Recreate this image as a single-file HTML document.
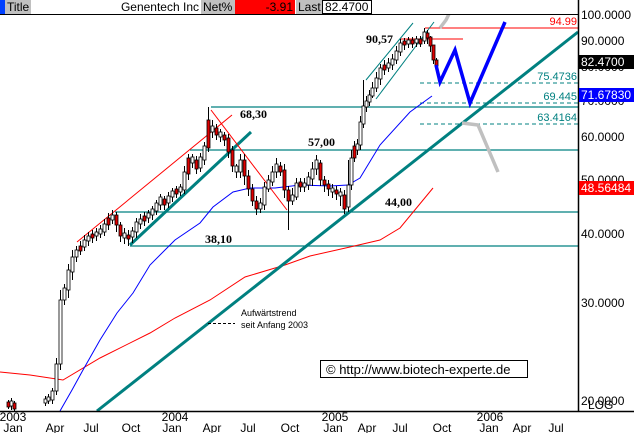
<!DOCTYPE html>
<html><head><meta charset="utf-8"><style>
body{margin:0;background:#fff;width:634px;height:433px;overflow:hidden}
svg{display:block;font-family:"Liberation Sans",sans-serif}
</style></head><body>
<svg width="634" height="433" xmlns="http://www.w3.org/2000/svg">
<rect width="634" height="433" fill="#fff"/>
<g stroke="#008080" stroke-width="1.3">
<line x1="211" y1="107" x2="578" y2="107"/>
<line x1="190" y1="150" x2="578" y2="150"/>
<line x1="115" y1="212" x2="578" y2="212"/>
<line x1="130" y1="246" x2="578" y2="246"/>
</g>
<g stroke="#008080" stroke-dasharray="4,3">
<line x1="420" y1="83" x2="578" y2="83"/>
<line x1="420" y1="103" x2="578" y2="103"/>
<line x1="420" y1="124" x2="578" y2="124"/>
</g>
<g font-size="11" fill="#008080" text-anchor="end">
<text x="577" y="80">75.4736</text><text x="577" y="100">69.445</text><text x="577" y="121">63.4164</text>
</g>
<line x1="425" y1="28" x2="578" y2="28" stroke="#ff0000"/>
<text x="577" y="25" font-size="11" fill="#ff0000" text-anchor="end">94.99</text>
<line x1="400" y1="39" x2="463" y2="39" stroke="#ff0000"/>
<polyline fill="none" stroke="#ff0000" points="0,372 30,375 63,380 100,358 150,333 175,318 210,300 245,277 285,265 310,256 350,247 380,240 400,228 433,188"/>
<polyline fill="none" stroke="#0000ff" points="60,411 72,390 83,370 100,340 117,313 133,293 150,265 175,240 200,223 213,207 233,192 250,188 275,188 300,185 330,186 348,185 360,178 380,145 410,112 432,96"/>
<line x1="97" y1="411" x2="578" y2="32" stroke="#008080" stroke-width="3"/>
<line x1="130" y1="245" x2="251" y2="132" stroke="#008080" stroke-width="3"/>
<line x1="77" y1="242" x2="232" y2="115" stroke="#ff0000"/>
<line x1="211" y1="110" x2="287" y2="210" stroke="#ff0000"/>
<line x1="366" y1="80" x2="413" y2="23" stroke="#008080"/>
<line x1="376" y1="99" x2="434" y2="22" stroke="#008080"/>
<!-- candles -->
<path fill="none" stroke="#000" d="M8.5 400V409M11.5 398V410M14.5 401V411M45.5 396V406M48.5 394V404M52.5 388V404M56.5 358V395M60.5 290V370M64.5 284V305M68.5 264V298M72.5 250V280M76.5 246V262M80.5 241V255M84.5 235V251M88.5 232V246M92.5 230V243M96.5 228V241M100.5 225V238M104.5 219V236M108.5 213V230M112.5 210V224M116.5 212V232M120.5 222V242M124.5 228V244M128.5 230V246M132.5 227V243M136.5 218V238M140.5 214V229M144.5 212V226M148.5 210V223M152.5 206V220M156.5 200V215M160.5 194V210M164.5 196V210M168.5 192V208M172.5 188V202M176.5 186V198M180.5 184V196M184.5 166V194M188.5 154V180M192.5 154V168M196.5 156V174M200.5 153V172M204.5 142V165M208.5 107V152M212.5 120V138M216.5 124V140M220.5 129V142M224.5 132V146M228.5 134V158M232.5 146V172M236.5 164V178M240.5 154V178M244.5 154V185M248.5 170V196M252.5 184V206M256.5 196V215M260.5 198V213M264.5 182V210M268.5 175V192M272.5 166V186M276.5 158V178M280.5 162V176M284.5 164V198M288.5 186V230M292.5 188V205M296.5 178V200M300.5 178V192M304.5 178V192M308.5 172V190M312.5 162V186M316.5 155V175M320.5 160V186M324.5 176V192M328.5 180V196M332.5 184V198M336.5 186V200M340.5 188V206M344.5 190V214M348.5 160V212M351.5 150V190M354.5 141V162M357.5 139V155M360.5 116V150M363.5 80V128M366.5 96V112M369.5 90V106M372.5 82V98M376.5 72V92M380.5 64V85M384.5 60V75M388.5 58V72M392.5 54V70M396.5 46V64M400.5 39V56M404.5 38V50M408.5 37V48M412.5 37V48M416.5 36V47M420.5 36V47M424.5 28V44M427.5 30V44M430.5 36V52M433.5 50V64M436.5 58V70"/>
<g stroke="#000" stroke-width="0.8" fill="#fff">
<rect x="7" y="402" width="3" height="5" fill="#e00000"/>
<rect x="10" y="401" width="3" height="5"/>
<rect x="13" y="403" width="3" height="6" fill="#e00000"/>
<rect x="44" y="399" width="3" height="4"/>
<rect x="47" y="397" width="3" height="4"/>
<rect x="51" y="391" width="3" height="9"/>
<rect x="55" y="364" width="3" height="27"/>
<rect x="59" y="300" width="3" height="64"/>
<rect x="63" y="288" width="3" height="12"/>
<rect x="67" y="270" width="3" height="20"/>
<rect x="71" y="257" width="3" height="15"/>
<rect x="75" y="250" width="3" height="7"/>
<rect x="79" y="246" width="3" height="5" fill="#e00000"/>
<rect x="83" y="240" width="3" height="7"/>
<rect x="87" y="236" width="3" height="5"/>
<rect x="91" y="234" width="3" height="4" fill="#e00000"/>
<rect x="95" y="232" width="3" height="4"/>
<rect x="99" y="229" width="3" height="5"/>
<rect x="103" y="224" width="3" height="8"/>
<rect x="107" y="218" width="3" height="7" fill="#e00000"/>
<rect x="111" y="215" width="3" height="5"/>
<rect x="115" y="215" width="3" height="10" fill="#e00000"/>
<rect x="119" y="225" width="3" height="11" fill="#e00000"/>
<rect x="123" y="233" width="3" height="5"/>
<rect x="127" y="235" width="3" height="4" fill="#e00000"/>
<rect x="131" y="231" width="3" height="6"/>
<rect x="135" y="222" width="3" height="10"/>
<rect x="139" y="219" width="3" height="5"/>
<rect x="143" y="216" width="3" height="5" fill="#e00000"/>
<rect x="147" y="213" width="3" height="5"/>
<rect x="151" y="209" width="3" height="6"/>
<rect x="155" y="203" width="3" height="8"/>
<rect x="159" y="197" width="3" height="8"/>
<rect x="163" y="199" width="3" height="6" fill="#e00000"/>
<rect x="167" y="196" width="3" height="7"/>
<rect x="171" y="191" width="3" height="6"/>
<rect x="175" y="189" width="3" height="5" fill="#e00000"/>
<rect x="179" y="187" width="3" height="5"/>
<rect x="183" y="172" width="3" height="18"/>
<rect x="187" y="158" width="3" height="16" fill="#e00000"/>
<rect x="191" y="157" width="3" height="6"/>
<rect x="195" y="160" width="3" height="9" fill="#e00000"/>
<rect x="199" y="157" width="3" height="11"/>
<rect x="203" y="146" width="3" height="14"/>
<rect x="207" y="120" width="3" height="28" fill="#e00000"/>
<rect x="211" y="126" width="3" height="6"/>
<rect x="215" y="128" width="3" height="7" fill="#e00000"/>
<rect x="219" y="132" width="3" height="5"/>
<rect x="223" y="135" width="3" height="5" fill="#e00000"/>
<rect x="227" y="138" width="3" height="14" fill="#e00000"/>
<rect x="231" y="150" width="3" height="16" fill="#e00000"/>
<rect x="235" y="166" width="3" height="6"/>
<rect x="239" y="160" width="3" height="12"/>
<rect x="243" y="160" width="3" height="16" fill="#e00000"/>
<rect x="247" y="176" width="3" height="13" fill="#e00000"/>
<rect x="251" y="189" width="3" height="12" fill="#e00000"/>
<rect x="255" y="201" width="3" height="8" fill="#e00000"/>
<rect x="259" y="203" width="3" height="6"/>
<rect x="263" y="187" width="3" height="18"/>
<rect x="267" y="180" width="3" height="9"/>
<rect x="271" y="172" width="3" height="10"/>
<rect x="275" y="164" width="3" height="8"/>
<rect x="279" y="166" width="3" height="6" fill="#e00000"/>
<rect x="283" y="170" width="3" height="20" fill="#e00000"/>
<rect x="287" y="190" width="3" height="11" fill="#e00000"/>
<rect x="291" y="195" width="3" height="6"/>
<rect x="295" y="183" width="3" height="14"/>
<rect x="299" y="182" width="3" height="5" fill="#e00000"/>
<rect x="303" y="183" width="3" height="4"/>
<rect x="307" y="177" width="3" height="8"/>
<rect x="311" y="169" width="3" height="10"/>
<rect x="315" y="160" width="3" height="9"/>
<rect x="319" y="163" width="3" height="17" fill="#e00000"/>
<rect x="323" y="180" width="3" height="5" fill="#e00000"/>
<rect x="327" y="184" width="3" height="5" fill="#e00000"/>
<rect x="331" y="188" width="3" height="4"/>
<rect x="335" y="190" width="3" height="4" fill="#e00000"/>
<rect x="339" y="192" width="3" height="4"/>
<rect x="343" y="195" width="3" height="14" fill="#e00000"/>
<rect x="347" y="185" width="3" height="22"/>
<rect x="350" y="158" width="3" height="27"/>
<rect x="353" y="146" width="3" height="12" fill="#e00000"/>
<rect x="356" y="144" width="3" height="6"/>
<rect x="359" y="122" width="3" height="23"/>
<rect x="362" y="106" width="3" height="18"/>
<rect x="365" y="101" width="3" height="6"/>
<rect x="368" y="95" width="3" height="7"/>
<rect x="371" y="88" width="3" height="8"/>
<rect x="375" y="78" width="3" height="10"/>
<rect x="379" y="68" width="3" height="11"/>
<rect x="383" y="65" width="3" height="5" fill="#e00000"/>
<rect x="387" y="63" width="3" height="5"/>
<rect x="391" y="59" width="3" height="6"/>
<rect x="395" y="51" width="3" height="9"/>
<rect x="399" y="43" width="3" height="9"/>
<rect x="403" y="41" width="3" height="4" fill="#e00000"/>
<rect x="407" y="40" width="3" height="4"/>
<rect x="411" y="40" width="3" height="4" fill="#e00000"/>
<rect x="415" y="39" width="3" height="4"/>
<rect x="419" y="39" width="3" height="5" fill="#e00000"/>
<rect x="423" y="32" width="3" height="9"/>
<rect x="426" y="33" width="3" height="5" fill="#e00000"/>
<rect x="429" y="37" width="3" height="9" fill="#e00000"/>
<rect x="432" y="45" width="3" height="15" fill="#e00000"/>
<rect x="435" y="60" width="3" height="6" fill="#e00000"/>
</g>
<polyline fill="none" stroke="#0000ff" stroke-width="3.5" points="436,65 440,82 455,50 470,103 505,22"/>
<polyline fill="none" stroke="#c0c0c0" stroke-width="3.5" points="440,28 446,20 456,0"/>
<polyline fill="none" stroke="#c0c0c0" stroke-width="3.5" points="462,123 478,125 498,172"/>
<g font-family="Liberation Serif,serif" font-weight="bold" font-size="12">
<text x="366" y="43">90,57</text><text x="240" y="118">68,30</text><text x="308" y="146">57,00</text>
<text x="385" y="206">44,00</text><text x="205" y="243">38,10</text>
</g>
<text x="241" y="316" font-size="9">Aufwärtstrend</text>
<text x="241" y="328" font-size="9">seit Anfang 2003</text>
<line x1="208" y1="323.5" x2="235" y2="323.5" stroke="#000" stroke-dasharray="3,2"/>
<rect x="320.5" y="360.5" width="207" height="17" fill="#fff" stroke="#000"/>
<text x="326" y="374" font-size="13">©  http://www.biotech-experte.de</text>
<!-- header -->
<rect x="0" y="0" width="634" height="14" fill="#fff"/>
<rect x="0" y="0" width="5" height="14" fill="#0040ff"/>
<rect x="5" y="0" width="26" height="14" fill="#c0c0c0"/>
<text x="7" y="11" font-size="12">Title</text>
<text x="199" y="11" font-size="12" text-anchor="end">Genentech Inc</text>
<rect x="201" y="0" width="34" height="14" fill="#c0c0c0"/>
<text x="203" y="11" font-size="12">Net%</text>
<rect x="235" y="0" width="60" height="14" fill="#ff0000"/>
<text x="293" y="11" font-size="12" text-anchor="end">-3.91</text>
<rect x="296" y="0" width="26" height="14" fill="#c0c0c0"/>
<text x="298" y="11" font-size="12">Last</text>
<rect x="322.5" y="0.5" width="49" height="13" fill="#fff" stroke="#000"/>
<text x="325" y="11" font-size="12">82.4700</text>
<line x1="0" y1="14.5" x2="578" y2="14.5" stroke="#000"/>
<rect x="579" y="0" width="55" height="433" fill="#fff"/>
<rect x="0" y="412" width="634" height="21" fill="#fff"/>
<line x1="578.5" y1="0" x2="578.5" y2="411" stroke="#000" stroke-width="1.5"/>
<line x1="0" y1="411.5" x2="634" y2="411.5" stroke="#000" stroke-width="1.5"/>
<g font-size="12">
<text x="581" y="19">100.0000</text>
<text x="581" y="45">90.0000</text>
<text x="581" y="71">80.0000</text>
<text x="581" y="105">70.0000</text>
<text x="581" y="141">60.0000</text>
<text x="581" y="184">50.0000</text>
<text x="581" y="238">40.0000</text>
<text x="581" y="307">30.0000</text>
<text x="581" y="405">20.0000</text>
<text x="588" y="409">LOG</text>
</g>
<rect x="579" y="55" width="55" height="14" fill="#000"/><text x="581" y="66" font-size="12" fill="#fff">82.4700</text>
<rect x="579" y="88" width="55" height="14" fill="#0000ff"/><text x="581" y="99" font-size="12" fill="#fff">71.67830</text>
<rect x="579" y="181" width="55" height="14" fill="#ff0000"/><text x="581" y="192" font-size="12" fill="#fff">48.56484</text>
<g font-size="12" text-anchor="middle">
<text x="13" y="421">2003</text><text x="13" y="432">Jan</text>
<text x="55" y="432">Apr</text><text x="91" y="432">Jul</text><text x="131" y="432">Oct</text>
<text x="175" y="421">2004</text><text x="172" y="432">Jan</text>
<text x="212" y="432">Apr</text><text x="248" y="432">Jul</text><text x="290" y="432">Oct</text>
<text x="335" y="421">2005</text><text x="333" y="432">Jan</text>
<text x="367" y="432">Apr</text><text x="400" y="432">Jul</text><text x="442" y="432">Oct</text>
<text x="490" y="421">2006</text><text x="489" y="432">Jan</text>
<text x="522" y="432">Apr</text><text x="556" y="432">Jul</text>
</g>
</svg>
</body></html>
